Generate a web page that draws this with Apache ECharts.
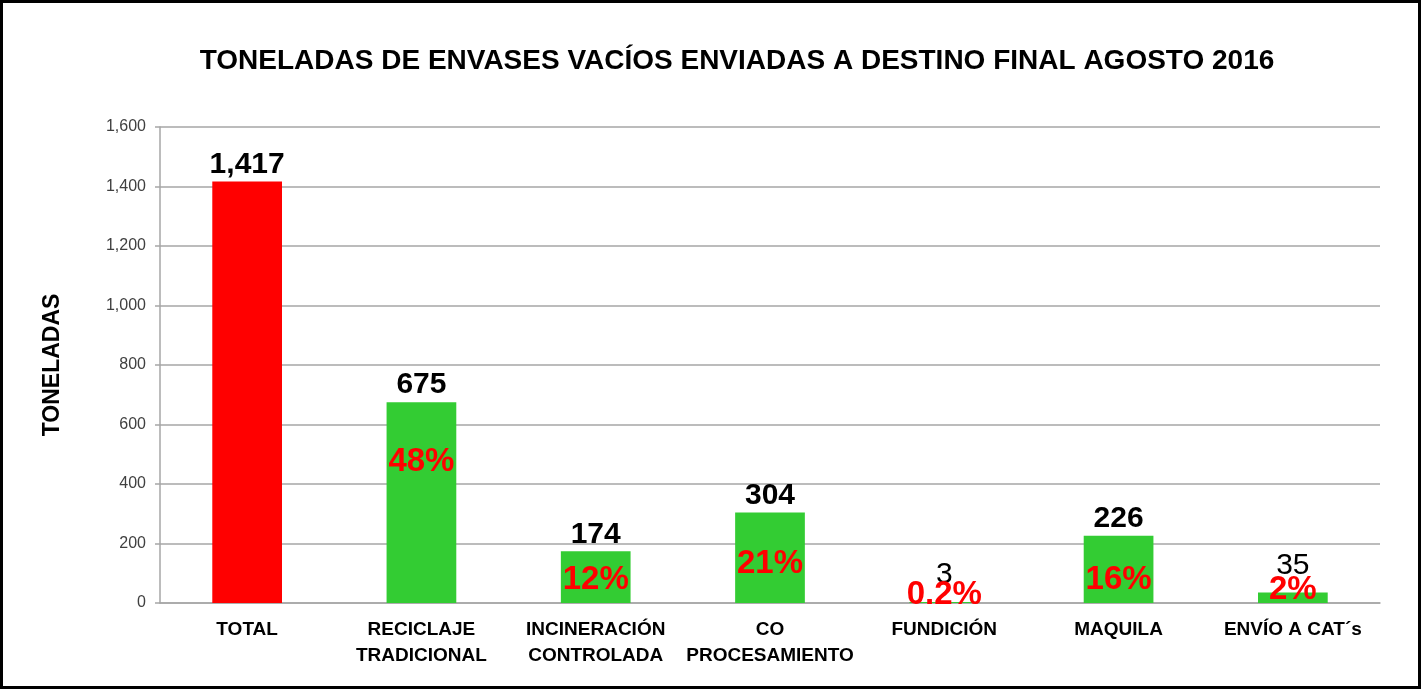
<!DOCTYPE html>
<html>
<head>
<meta charset="utf-8">
<script src="https://cdn.jsdelivr.net/npm/echarts@6/dist/echarts.min.js"></script>
<style>
html, body { margin: 0; padding: 0; background: #fff; }
#chart { width: 1421px; height: 689px; box-sizing: border-box; border: 3px solid #000; }
</style>
</head>
<body>
<div id="chart"></div>
<script>
// datos
const categorias = ['TOTAL', 'RECICLAJE\nTRADICIONAL', 'INCINERACIÓN\nCONTROLADA', 'CO\nPROCESAMIENTO', 'FUNDICIÓN', 'MAQUILA', 'ENVÍO A CAT´s']
const toneladas = [1417, 675, 174, 304, 3, 226, 35]
const porcentajes = ['', '48%', '12%', '21%', '0.2%', '16%', '2%']
const yTicks = [0, 200, 400, 600, 800, 1000, 1200, 1400, 1600]

// ajustes de las etiquetas (px)
const pctShift = [0, 43, 12, 35, -24, 28, -19]
const valorGap = [2, 2, 2, 2, 12, 2, 12]
const valorNegrita = [true, true, true, true, false, true, false]

const FONT = '"Liberation Sans Narrow", "Liberation Sans", Arial, sans-serif'

const chart = echarts.init(document.getElementById('chart'))

const barData = toneladas.map((v, i) => ({
  value: v,
  itemStyle: { color: i === 0 ? '#FF0000' : '#33CC33' },
  label: { fontWeight: valorNegrita[i] ? 'bold' : 'normal', distance: valorGap[i] }
}))

const pctData = toneladas.map((v, i) => ({
  value: v,
  label: {
    show: porcentajes[i] !== '',
    formatter: porcentajes[i],
    offset: [0, pctShift[i]]
  }
}))

const option = {
  animation: false,
  title: {
    text: 'TONELADAS DE ENVASES VACÍOS ENVIADAS A DESTINO FINAL AGOSTO 2016',
    left: 729,
    textAlign: 'center',
    top: 39,
    textStyle: { fontFamily: FONT, fontSize: 28, fontWeight: 'bold', color: '#000' }
  },
  grid: { left: 157, right: 38, top: 124, bottom: 83 },
  xAxis: {
    type: 'category',
    data: categorias,
    axisLine: { lineStyle: { color: '#A6A6A6', width: 1.5 } },
    axisTick: { show: false },
    axisLabel: {
      interval: 0,
      margin: 14,
      lineHeight: 26,
      fontFamily: FONT,
      fontSize: 19,
      fontWeight: 'bold',
      color: '#000'
    }
  },
  yAxis: {
    type: 'value',
    min: 0,
    max: 1600,
    interval: 200,
    name: 'TONELADAS',
    nameLocation: 'middle',
    nameGap: 96,
    nameTextStyle: { fontFamily: FONT, fontSize: 23, fontWeight: 'bold', color: '#000' },
    axisLine: { show: true, lineStyle: { color: '#A6A6A6', width: 1.5 } },
    axisTick: { show: true, length: 5, lineStyle: { color: '#A6A6A6', width: 1.5 } },
    splitLine: { lineStyle: { color: '#A6A6A6', width: 1.5 } },
    axisLabel: {
      margin: 14,
      fontFamily: 'Liberation Sans, Arial, sans-serif',
      fontSize: 16,
      color: '#404040',
      formatter: v => v.toLocaleString('en-US')
    }
  },
  series: [
    {
      type: 'bar',
      barWidth: '40%',
      data: barData,
      label: {
        show: true,
        position: 'top',
        fontFamily: FONT,
        fontSize: 30,
        color: '#000',
        formatter: p => p.value.toLocaleString('en-US')
      }
    },
    {
      type: 'bar',
      barWidth: '40%',
      barGap: '-100%',
      data: pctData,
      itemStyle: { color: 'transparent' },
      z: 5,
      label: {
        position: 'insideTop',
        distance: 0,
        fontFamily: FONT,
        fontSize: 33,
        fontWeight: 'bold',
        color: '#FF0000'
      }
    }
  ]
}

chart.setOption(option)
</script>
</body>
</html>
